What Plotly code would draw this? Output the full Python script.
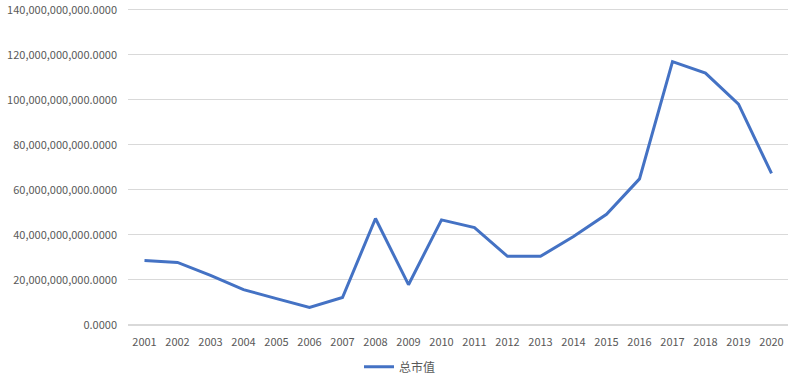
import plotly.graph_objects as go

years = [str(y) for y in range(2001, 2021)]
market_cap = [28.6e9, 27.8e9, 22.0e9, 15.7e9, 11.7e9, 7.8e9, 12.2e9, 47.3e9, 17.9e9, 46.7e9,
              43.3e9, 30.5e9, 30.5e9, 39.3e9, 49.2e9, 64.9e9, 117.0e9, 111.9e9, 98.1e9, 67.3e9]
series_name = "总市值"

fig = go.Figure()
fig.add_trace(go.Scatter(x=years, y=market_cap, mode="lines", name=series_name,
                         line=dict(color="#4472C4", width=3)))

font_family = "Noto Sans CJK SC, Liberation Sans, Arial, sans-serif"
fig.update_layout(
    width=800, height=379,
    margin=dict(l=128, r=12, t=8, b=54, autoexpand=False),
    paper_bgcolor="white", plot_bgcolor="white",
    font=dict(family=font_family, size=11, color="#595959"),
    showlegend=True,
    legend=dict(orientation="h", xref="container", x=0.5, xanchor="center",
                y=-0.132, yanchor="middle", itemwidth=30,
                font=dict(size=12, color="#595959")),
    xaxis=dict(type="category", range=[-0.5, 19.5], showgrid=False, showline=False,
               automargin=False, ticks="", ticklabelstandoff=9,
               tickfont=dict(size=11, color="#595959")),
    yaxis=dict(range=[0, 140.8e9], tick0=0, dtick=20e9, tickformat=",.4f",
               showgrid=True, automargin=False,
               gridcolor="#D9D9D9", gridwidth=1, zeroline=True, zerolinecolor="#D9D9D9",
               showline=False, ticks="", ticklabelstandoff=10, ticklabeloverflow="allow",
               tickfont=dict(size=11, color="#595959")),
)
fig.write_html("out.html", config={"displayModeBar": False},
               post_script="document.body.style.margin='0';document.body.style.overflow='hidden';")
